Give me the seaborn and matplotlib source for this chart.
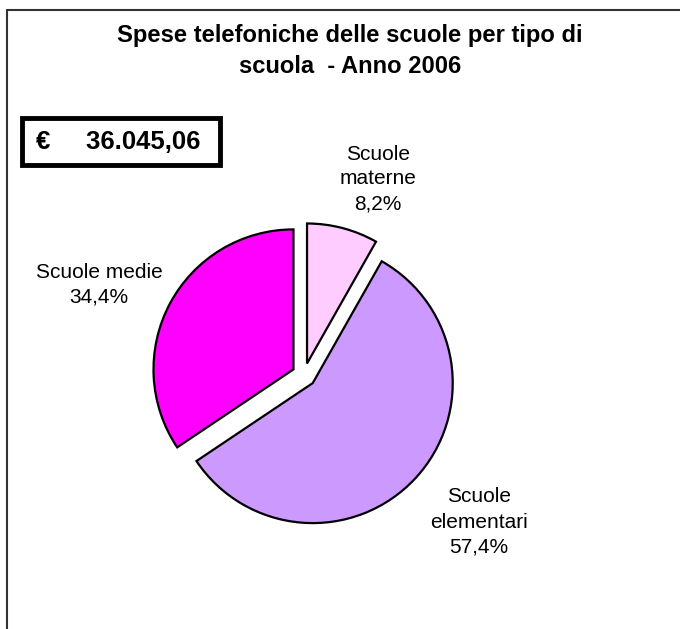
import matplotlib
matplotlib.use("Agg")
import matplotlib.pyplot as plt
from matplotlib.lines import Line2D
from matplotlib.patches import Rectangle
import seaborn as sns

# data
categorie = ["Scuole\nmaterne", "Scuole\nelementari", "Scuole medie"]
percentuali = [8.2, 57.4, 34.4]
colori = ["#FFCCFF", "#CC99FF", "#FF00FF"]
totale = "€     36.045,06"
titolo = "Spese telefoniche delle scuole per tipo di\nscuola  - Anno 2006"

sns.set_theme(style="white")
plt.rcParams['font.family'] = ['Liberation Sans', 'DejaVu Sans']
plt.rcParams['text.color'] = 'black'

fig = plt.figure(figsize=(6.8, 6.29), dpi=100)
fig.patch.set_facecolor("white")

# pie area: centre around (304, 375) px, radius 140 px
ax = fig.add_axes([94 / 680, (629 - 585) / 629, 420 / 680, 420 / 629])
wedges, _ = ax.pie(percentuali, colors=colori, startangle=90, counterclock=False,
                   explode=[0.085] * 3, radius=1,
                   wedgeprops=dict(edgecolor="black", linewidth=1.6))
ax.set_xlim(-1.5, 1.5)
ax.set_ylim(-1.5, 1.5)
ax.set_aspect("equal")
ax.axis("off")

# labels placed like the original
pos_lab = [(0.529, 1.40), (1.25, -1.05), (-1.464, 0.643)]
for nome, p, (x, y) in zip(categorie, percentuali, pos_lab):
    ax.text(x, y, f"{nome}\n{p:.1f}%".replace(".", ","), ha="center", va="center",
            fontsize=15, linespacing=1.4, color="black", clip_on=False)

fig.text(350 / 680, 1 - 51 / 629, titolo, ha="center", va="center",
         fontsize=17.1, fontweight="bold", linespacing=1.45, color="black")

# total box
fig.add_artist(Rectangle((22 / 680, 1 - 165 / 629), 198 / 680, 47 / 629,
                         transform=fig.transFigure, facecolor="white",
                         edgecolor="black", linewidth=3.5))
fig.text(36 / 680, 1 - 142 / 629, totale, ha="left", va="center",
         fontsize=18.5, fontweight="bold", color="black")

# outer frame (top and left edges only)
fig.add_artist(Line2D([7 / 680, 1], [1 - 10 / 629, 1 - 10 / 629],
                      color="#333333", linewidth=1.5))
fig.add_artist(Line2D([7 / 680, 7 / 680], [0, 1 - 10 / 629],
                      color="#333333", linewidth=1.5))

fig.savefig("out.png", dpi=100)
